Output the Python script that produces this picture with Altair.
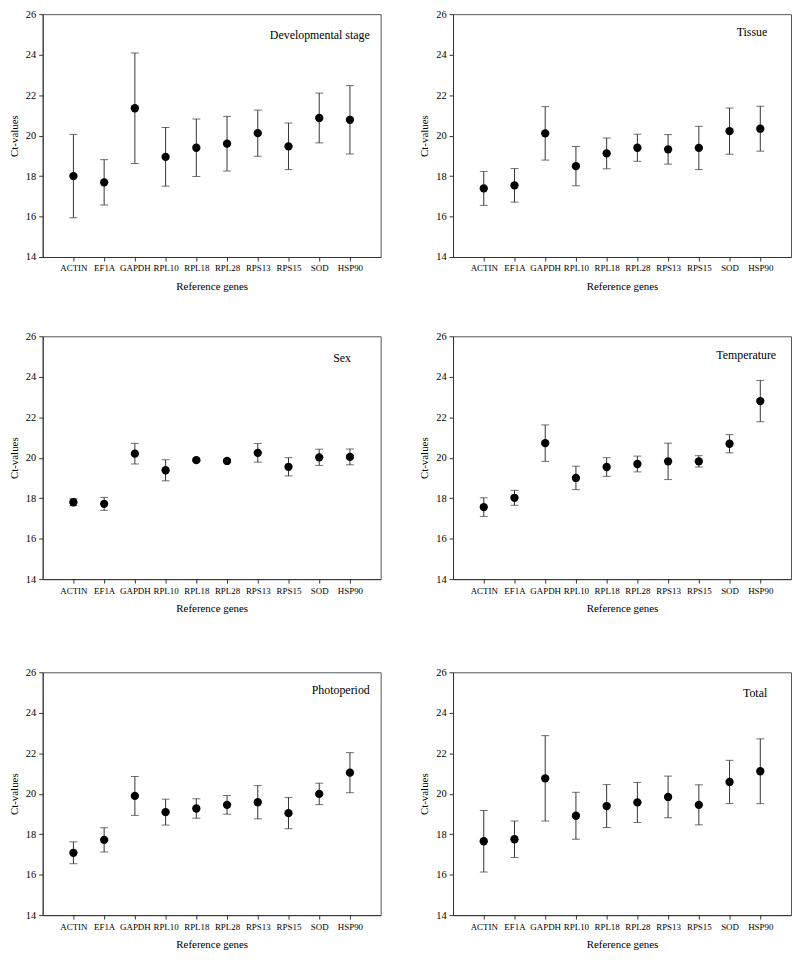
import altair as alt
import pandas as pd

genes = ["ACTIN", "EF1A", "GAPDH", "RPL10", "RPL18", "RPL28", "RPS13", "RPS15", "SOD", "HSP90"]

panel_titles = ["Developmental stage", "Tissue", "Sex", "Temperature", "Photoperiod", "Total"]

dev_mean = [18.00, 17.69, 21.35, 18.95, 19.40, 19.60, 20.12, 19.47, 20.87, 20.78]
dev_err = [2.06, 1.12, 2.73, 1.45, 1.42, 1.35, 1.14, 1.15, 1.23, 1.69]

tissue_mean = [17.39, 17.54, 20.11, 18.49, 19.12, 19.40, 19.32, 19.39, 20.22, 20.34]
tissue_err = [0.84, 0.83, 1.32, 0.97, 0.76, 0.67, 0.73, 1.07, 1.14, 1.11]

sex_mean = [17.80, 17.72, 20.20, 19.38, 19.88, 19.84, 20.24, 19.55, 20.02, 20.04]
sex_err = [0.17, 0.32, 0.51, 0.52, 0.05, 0.08, 0.46, 0.45, 0.40, 0.39]

temp_mean = [17.56, 18.02, 20.72, 19.00, 19.54, 19.69, 19.82, 19.82, 20.69, 22.80]
temp_err = [0.46, 0.37, 0.90, 0.58, 0.46, 0.39, 0.90, 0.28, 0.45, 1.02]

photo_mean = [17.08, 17.72, 19.89, 19.09, 19.27, 19.45, 19.58, 19.04, 19.99, 21.04]
photo_err = [0.54, 0.60, 0.96, 0.64, 0.48, 0.46, 0.82, 0.77, 0.53, 0.99]

total_mean = [17.65, 17.75, 20.76, 18.91, 19.39, 19.57, 19.84, 19.45, 20.58, 21.11]
total_err = [1.52, 0.90, 2.11, 1.16, 1.06, 0.99, 1.03, 0.99, 1.07, 1.60]

y_ticks = [14, 16, 18, 20, 22, 24, 26]

means = [dev_mean, tissue_mean, sex_mean, temp_mean, photo_mean, total_mean]
errs = [dev_err, tissue_err, sex_err, temp_err, photo_err, total_err]

FONT = "Liberation Serif"
W, H = 341, 245
label_right = [11, 24, 30, 15, 11, 24]
label_top = [21, 18, 22, 19, 18, 21]


def panel(i):
    df = pd.DataFrame({
        "gene": genes,
        "mean": means[i],
        "lo": [m - e for m, e in zip(means[i], errs[i])],
        "hi": [m + e for m, e in zip(means[i], errs[i])],
    })
    x = alt.X("gene:N", sort=genes,
              scale=alt.Scale(type="point", padding=1),
              axis=alt.Axis(title="Reference genes", labelAngle=0))
    base = alt.Chart(df)
    rule = base.mark_rule(color="#333333", strokeWidth=1).encode(
        x=x,
        y=alt.Y("lo:Q", scale=alt.Scale(domain=[14, 26], nice=False),
                axis=alt.Axis(title="Ct-values", values=y_ticks)),
        y2="hi:Q",
    )
    cap_lo = base.mark_tick(color="#333333", size=8, thickness=1).encode(x=x, y="lo:Q")
    cap_hi = base.mark_tick(color="#333333", size=8, thickness=1).encode(x=x, y="hi:Q")
    pts = base.mark_point(filled=True, color="black", opacity=1, size=70).encode(x=x, y="mean:Q")
    txt = alt.Chart(pd.DataFrame({"t": [panel_titles[i]]})).mark_text(
        font=FONT, fontSize=12, align="right", baseline="middle", color="black"
    ).encode(
        text="t:N",
        x=alt.value(W - label_right[i]),
        y=alt.value(label_top[i]),
    )
    return alt.layer(rule, cap_lo, cap_hi, pts, txt).properties(width=W, height=H)


rows = [alt.hconcat(panel(2 * r), panel(2 * r + 1), spacing=37) for r in range(3)]
chart = alt.vconcat(
    alt.vconcat(rows[0], rows[1], spacing=38),
    rows[2],
    spacing=52,
).properties(
    padding={"left": 0, "top": -4, "right": 0, "bottom": 0}
).configure_view(
    stroke="#555555", strokeWidth=1
).configure_axis(
    labelFont=FONT, titleFont=FONT, titleFontSize=11,
    titleFontWeight="normal", labelColor="black", titleColor="black",
    domainColor="#333333", tickColor="#333333", tickSize=4, grid=False,
    labelPadding=3,
).configure_axisX(
    labelFontSize=9, titlePadding=8,
).configure_axisY(
    labelFontSize=10.5, titlePadding=6,
)

chart.save("out.html", embed_options={"renderer": "svg", "actions": False})
